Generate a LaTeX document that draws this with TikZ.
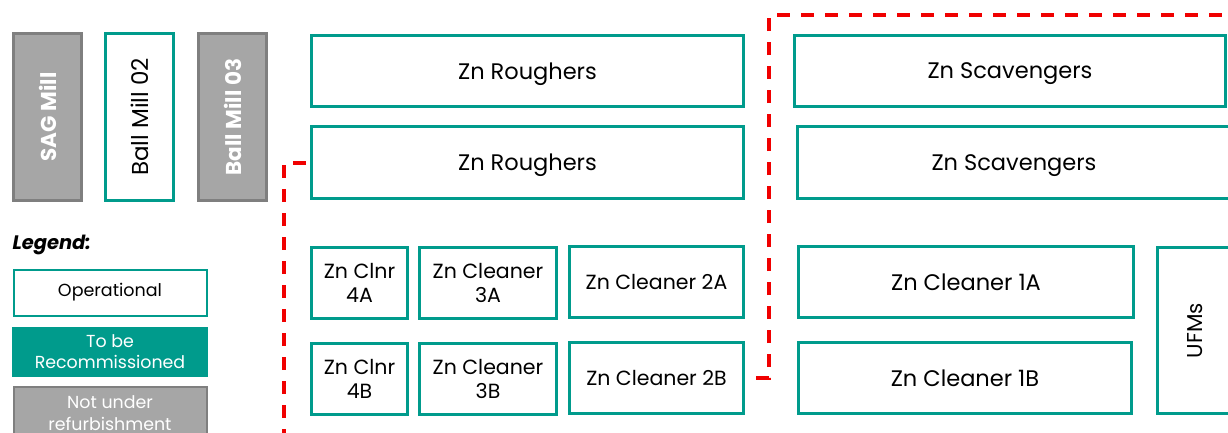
\documentclass[tikz,border=0pt]{standalone}
\usepackage{fontspec}
\setmainfont{Poppins}
\definecolor{teal1}{RGB}{0,155,140}
\definecolor{gfill}{RGB}{166,166,166}
\definecolor{gline}{RGB}{127,127,127}
\definecolor{redd}{RGB}{240,0,0}
\begin{document}
\begin{tikzpicture}[x=1pt,y=-1pt,
  opbox/.style={draw=teal1,line width=3pt,fill=white,inner sep=0pt,align=center,font=\fontsize{22.5}{26}\selectfont},
  onebox/.style={opbox,text depth=0pt},
  smallbox/.style={opbox,font=\fontsize{20.5}{24}\selectfont},
  graybox/.style={draw=gline,line width=3pt,fill=gfill,inner sep=0pt,align=center,text=white},
  recbox/.style={fill=teal1,inner sep=0pt,align=center,text=white,font=\fontsize{17.4}{21}\selectfont},
  redline/.style={draw=redd,line width=3.5pt,dash pattern=on 13pt off 11pt}]
\useasboundingbox (0,0) rectangle (1228,432);
% mills
\node[graybox,minimum width=68,minimum height=167,font=\fontsize{21.5}{24}\selectfont\bfseries] (sag) at (47.5,117) {\rotatebox{90}{SAG Mill}};
\node[opbox,minimum width=68,minimum height=167,font=\fontsize{23}{26}\selectfont] (bm2) at (139.5,117) {\rotatebox{90}{Ball Mill 02}};
\node[graybox,minimum width=68,minimum height=167,font=\fontsize{21.5}{24}\selectfont\bfseries] (bm3) at (232.5,117) {\rotatebox{90}{Ball Mill 03}};
% legend
\node[anchor=west,font=\fontsize{19.5}{22}\selectfont\bfseries\itshape] (leg) at (9,245) {Legend:};
\node[opbox,minimum width=193,minimum height=46,line width=2pt,font=\fontsize{17.5}{21}\selectfont] (lop) at (110,292.5) {Operational};
\node[recbox,minimum width=196,minimum height=50] (lrec) at (110,352) {To be\\Recommissioned};
\node[graybox,minimum width=193,minimum height=52,line width=2pt,font=\fontsize{17.4}{22}\selectfont] (lnot) at (110,413) {Not under\\refurbishment};
% roughers / scavengers
\node[onebox,minimum width=432,minimum height=71] (r1) at (527.5,71) {Zn Roughers};
\node[onebox,minimum width=432,minimum height=72] (r2) at (527.5,162.5) {Zn Roughers};
\node[onebox,minimum width=431,minimum height=71] (s1) at (1010,71) {Zn Scavengers};
\node[onebox,minimum width=433,minimum height=72] (s2) at (1014,162.5) {Zn Scavengers};
% cleaners
\node[smallbox,minimum width=96,minimum height=71] (c4a) at (359.5,283) {Zn Clnr\\4A};
\node[smallbox,minimum width=137,minimum height=71] (c3a) at (488,283) {Zn Cleaner\\3A};
\node[smallbox,minimum width=174,minimum height=71] (c2a) at (656.5,282) {Zn Cleaner 2A};
\node[opbox,minimum width=335,minimum height=71] (c1a) at (966,282) {Zn Cleaner 1A};
\node[smallbox,minimum width=96,minimum height=71] (c4b) at (359.5,379) {Zn Clnr\\4B};
\node[smallbox,minimum width=137,minimum height=71] (c3b) at (488,379) {Zn Cleaner\\3B};
\node[smallbox,minimum width=174,minimum height=71] (c2b) at (656.5,378) {Zn Cleaner 2B};
\node[opbox,minimum width=333,minimum height=71] (c1b) at (965,378) {Zn Cleaner 1B};
\node[opbox,minimum width=75,minimum height=166,font=\fontsize{21.5}{24}\selectfont] (ufm) at (1195,330.5) {\rotatebox{90}{UFMs}};
% red dashed boundaries
\coordinate (a1) at (306,163);
\coordinate (a2) at (284,163);
\coordinate (a3) at (284,440);
\draw[redline] (a1) -- (a2) -- (a3);
\coordinate (b1) at (756,378);
\coordinate (b2) at (769,378);
\coordinate (b3) at (769,15);
\coordinate (b4) at (1236,15);
\draw[redline] (b1) -- (b2) -- (b3) -- (b4);
\end{tikzpicture}
\end{document}
